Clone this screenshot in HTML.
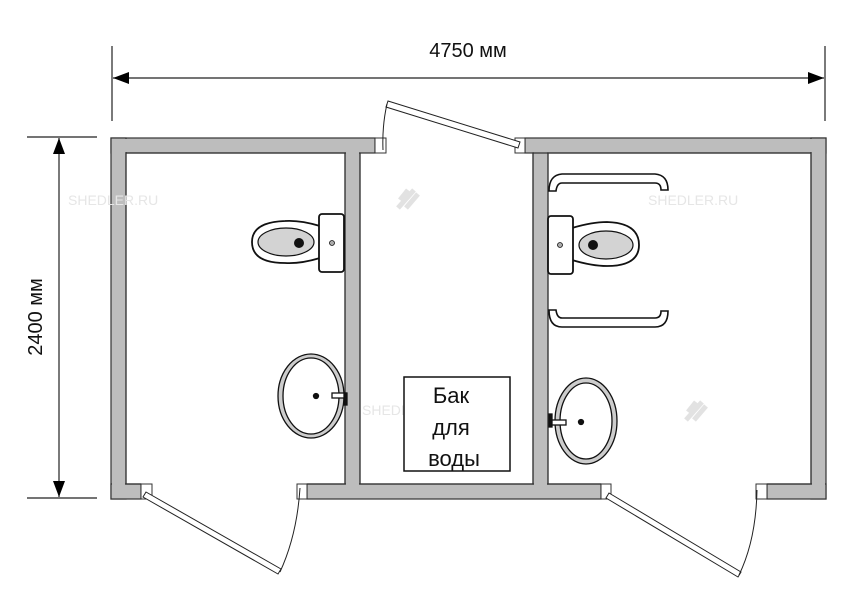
<!DOCTYPE html>
<html><head><meta charset="utf-8"><style>
html,body{margin:0;padding:0;background:#fff;}
svg{display:block;}
</style></head><body>
<svg width="848" height="600" viewBox="0 0 848 600" xmlns="http://www.w3.org/2000/svg" font-family="Liberation Sans, DejaVu Sans, sans-serif">
<!-- walls -->
<g fill="#bdbdbd" stroke="#333" stroke-width="1.2">
<rect x="111" y="138" width="264" height="15"/>
<rect x="111" y="138" width="15" height="361"/>
<rect x="111" y="484" width="30" height="15"/>
<rect x="345" y="153" width="15" height="331"/>
<rect x="307" y="484" width="294" height="15"/>
<rect x="525" y="138" width="301" height="15"/>
<rect x="533" y="153" width="15" height="331"/>
<rect x="811" y="138" width="15" height="361"/>
<rect x="767" y="484" width="59" height="15"/>
</g>
<g fill="#bdbdbd">
<rect x="112" y="139" width="13" height="359"/>
<rect x="112" y="139" width="262" height="13"/>
<rect x="112" y="485" width="28" height="13"/>
<rect x="346" y="152" width="13" height="346"/>
<rect x="308" y="485" width="292" height="13"/>
<rect x="526" y="139" width="299" height="13"/>
<rect x="534" y="152" width="13" height="346"/>
<rect x="812" y="139" width="13" height="359"/>
<rect x="768" y="485" width="57" height="13"/>
</g>
<g fill="none" stroke="#333" stroke-width="1.2">
<path d="M126,153 H345 V484 H307"/>
<path d="M360,153 V484 H533 V153 H548 M548,153 H811 V484 H767"/>
<path d="M548,153 V484 H601"/>
<path d="M126,153 V484 H141"/>
</g>
<!-- watermarks -->
<g fill="#e6e6e6" font-size="14">
<text x="68" y="205">SHEDLER.RU</text>
<text x="648" y="205">SHEDLER.RU</text>
<text x="362" y="415">SHEDLER.RU</text>
</g>
<g fill="none" stroke="#e2e2e2" stroke-width="5">
<path d="M400,200 l8,-10 M398,208 l16,-18 M406,208 l12,-14"/>
<path d="M688,412 l8,-10 M686,420 l16,-18 M694,420 l12,-14"/>
</g>
<!-- jambs -->
<g fill="#fff" stroke="#333" stroke-width="1">
<path d="M375,138 H386 V153 H375 Z"/>
<path d="M515,138 H525 V153 H515 Z"/>
<path d="M141,484 H152 V499 H141 Z"/>
<path d="M297,484 H307 V499 H297 Z"/>
<path d="M601,484 H611 V499 H601 Z"/>
<path d="M756,484 H767 V499 H756 Z"/>
</g>
<!-- doors -->
<g fill="#fff" stroke="#222" stroke-width="1">
<polygon points="388,101 520,142 518,148 386,107"/>
<path d="M387,104 Q382,126 383,150" fill="none"/>
<polygon points="146,492 281,569 278,574 143,497"/>
<path d="M280,572 Q297,535 300,488" fill="none"/>
<polygon points="609,493 741,572 738,577 606,498"/>
<path d="M739,575 Q756,540 757,490" fill="none"/>
</g>
<!-- dimensions -->
<g stroke="#222" stroke-width="1.2" fill="#000">
<line x1="112" y1="46" x2="112" y2="121"/>
<line x1="825" y1="46" x2="825" y2="121"/>
<line x1="113" y1="78" x2="824" y2="78"/>
<polygon points="113,78 129,72 129,84" stroke="none"/>
<polygon points="824,78 808,72 808,84" stroke="none"/>
<line x1="27" y1="137" x2="97" y2="137"/>
<line x1="27" y1="498" x2="97" y2="498"/>
<line x1="59" y1="138" x2="59" y2="497"/>
<polygon points="59,138 53,154 65,154" stroke="none"/>
<polygon points="59,497 53,481 65,481" stroke="none"/>
</g>
<text x="468" y="57" font-size="20" text-anchor="middle" fill="#111">4750 мм</text>
<text transform="translate(42,317) rotate(-90)" font-size="20" text-anchor="middle" fill="#111">2400 мм</text>
<!-- tank -->
<rect x="404" y="377" width="106" height="94" fill="#fff" stroke="#111" stroke-width="1.5"/>
<g font-size="22" fill="#111" text-anchor="middle">
<text x="451" y="403">Бак</text>
<text x="451" y="435">для</text>
<text x="454" y="466">воды</text>
</g>
<!-- left toilet -->
<g stroke="#111" stroke-width="1.8">
<path d="M320,226 Q300,220 285,221 Q252,222 252,242 Q252,263 285,263 Q300,264 320,258 Z" fill="#fff"/>
<ellipse cx="286" cy="242" rx="28" ry="14" fill="#d3d3d3" stroke-width="1.2"/>
<circle cx="299" cy="243" r="5" fill="#111" stroke="none"/>
<rect x="319" y="214" width="25" height="58" rx="3" fill="#fff"/>
<circle cx="332" cy="243" r="2.5" fill="#aaa" stroke-width="0.8"/>
</g>
<!-- right toilet -->
<g stroke="#111" stroke-width="1.8">
<path d="M572,228 Q592,222 607,222 Q639,223 639,245 Q639,266 607,266 Q592,266 572,260 Z" fill="#fff"/>
<ellipse cx="606" cy="245" rx="27" ry="14" fill="#d3d3d3" stroke-width="1.2"/>
<circle cx="593" cy="245" r="5" fill="#111" stroke="none"/>
<rect x="548" y="216" width="25" height="58" rx="3" fill="#fff"/>
<circle cx="560" cy="245" r="2.5" fill="#aaa" stroke-width="0.8"/>
</g>
<!-- grab bars -->
<g fill="#fff" stroke="#111" stroke-width="1.6">
<path d="M549,191 Q549,175 562,174 H655 Q668,175 668,190 H661 Q661,183 655,183 H562 Q557,183 556,191 Z"/>
<path d="M549,310 Q549,327 562,327 H655 Q668,327 668,311 H661 Q661,318 655,318 H562 Q557,318 556,310 Z"/>
</g>
<!-- sinks -->
<g stroke="#111" stroke-width="1.3">
<ellipse cx="311" cy="396" rx="33" ry="42" fill="#ccc"/>
<ellipse cx="311" cy="396" rx="28" ry="38" fill="#fff"/>
<circle cx="316" cy="396" r="2.5" fill="#111"/>
<rect x="332" y="393" width="14" height="5" fill="#fff"/>
<rect x="344" y="393" width="3" height="12" fill="#111"/>
<ellipse cx="586" cy="421" rx="31" ry="43" fill="#ccc"/>
<ellipse cx="586" cy="421" rx="26" ry="38" fill="#fff"/>
<circle cx="581" cy="422" r="2.5" fill="#111"/>
<rect x="551" y="420" width="15" height="5" fill="#fff"/>
<rect x="549" y="414" width="3" height="13" fill="#111"/>
</g>
</svg>
</body></html>
